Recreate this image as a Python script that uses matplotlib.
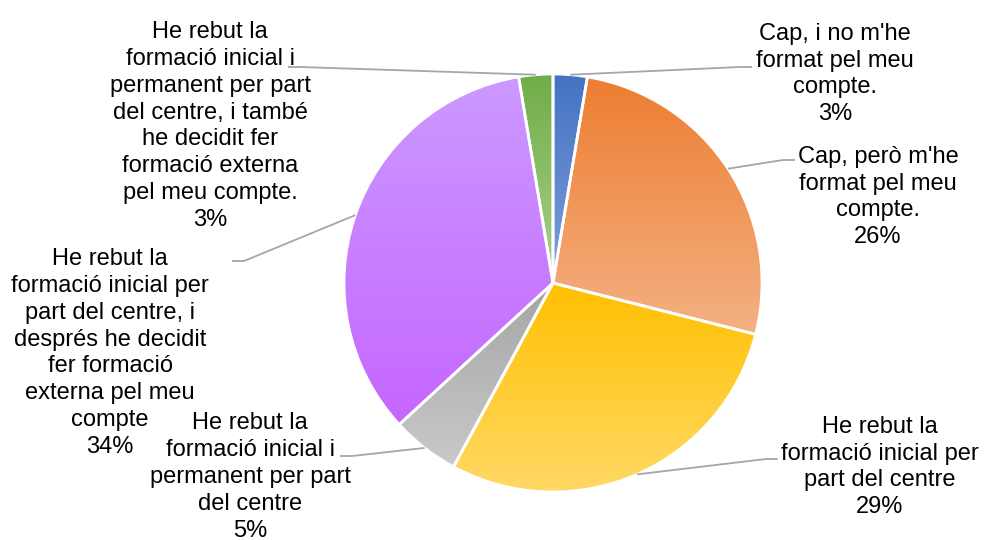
import matplotlib.pyplot as plt
import numpy as np
from matplotlib.colors import LinearSegmentedColormap

plt.rcParams['font.family'] = ['Liberation Sans', 'DejaVu Sans']

W, H = 984, 540

categories = [
    "Cap, i no m'he\nformat pel meu\ncompte.",
    "Cap, però m'he\nformat pel meu\ncompte.",
    "He rebut la\nformació inicial per\npart del centre",
    "He rebut la\nformació inicial i\npermanent per part\ndel centre",
    "He rebut la\nformació inicial per\npart del centre, i\ndesprés he decidit\nfer formació\nexterna pel meu\ncompte",
    "He rebut la\nformació inicial i\npermanent per part\ndel centre, i també\nhe decidit fer\nformació externa\npel meu compte.",
]
responses = [1, 10, 11, 2, 13, 1]

# slice gradients, top colour -> bottom colour
top_colors = ['#4472C4', '#ED7D31', '#FFC000', '#A5A5A5', '#CC99FF', '#70AD47']
bottom_colors = ['#7F9FD8', '#F4B183', '#FFD966', '#C9C9C9', '#C566FF', '#A9D18E']

# label centres and leader line ends, in pixels from the top left
label_pos = [(835, 74), (878, 197), (880, 467), (250, 477), (110, 353), (210, 126)]
leader_end = [(752, 67), (795, 160), (778, 459), (340, 456), (232, 261), (288, 67)]

center = (553, H - 283)
radius = 209


def flip(p):
    return p[0], H - p[1]


def draw_chart():
    fig = plt.figure(figsize=(W / 100, H / 100), dpi=100)
    ax = fig.add_axes([0, 0, 1, 1])

    wedges, _ = ax.pie(responses, startangle=90, counterclock=False,
                       center=center, radius=radius,
                       wedgeprops=dict(edgecolor='white', linewidth=2))

    grad = np.linspace(0, 1, 256).reshape(-1, 1)
    for w, c_top, c_bot in zip(wedges, top_colors, bottom_colors):
        ext = w.get_path().get_extents()
        cmap = LinearSegmentedColormap.from_list('g', [c_bot, c_top])
        im = ax.imshow(grad, cmap=cmap, origin='lower', aspect='auto',
                       extent=[ext.x0, ext.x1, ext.y0, ext.y1],
                       interpolation='bilinear', zorder=1)
        im.set_clip_path(w)
        w.set_facecolor('none')
        w.set_zorder(2)

    total = sum(responses)
    for w, cat, n, pos, end in zip(wedges, categories, responses,
                                   label_pos, leader_end):
        theta = np.deg2rad((w.theta1 + w.theta2) / 2)
        start = (center[0] + radius * np.cos(theta),
                 center[1] + radius * np.sin(theta))
        ex, ey = flip(end)
        side = 1 if ex > center[0] else -1
        elbow = (ex - side * 12, ey)
        ax.plot([start[0], elbow[0], ex], [start[1], elbow[1], ey],
                color='#A6A6A6', lw=1.3, zorder=3, solid_capstyle='butt')

        lx, ly = flip(pos)
        ax.text(lx, ly, f"{cat}\n{n / total * 100:.0f}%", ha='center',
                va='center', fontsize=17, color='black', linespacing=1.28,
                zorder=4)

    ax.set_xlim(0, W)
    ax.set_ylim(0, H)
    ax.set_aspect('auto')
    ax.axis('off')
    fig.savefig('out.png', dpi=100, facecolor='white')


if __name__ == '__main__':
    draw_chart()
